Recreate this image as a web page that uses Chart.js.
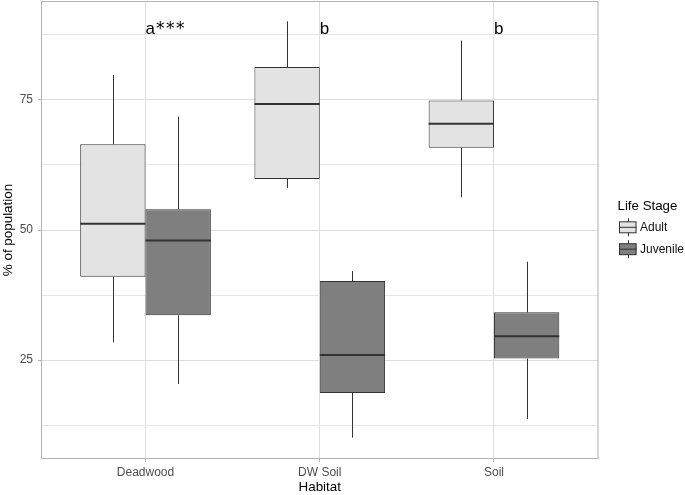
<!DOCTYPE html>
<html>
<head>
<meta charset="utf-8">
<script src="https://cdn.jsdelivr.net/npm/chart.js@4"></script>
<style>
  body { margin: 0; background: #fff; }
  canvas { display: block; }
</style>
</head>
<body>
<canvas id="boxchart" width="685" height="495"></canvas>
<script>
const HABITATS = ["Deadwood", "DW Soil", "Soil"];
const STAGES = ["Adult", "Juvenile"];

// five number summaries
const ADULT_MIN = [28.4, 58.1, 56.3];
const ADULT_Q1 = [41.0, 59.8, 65.8];
const ADULT_MED = [51.2, 74.2, 70.4];
const ADULT_Q3 = [66.5, 81.3, 74.9];
const ADULT_MAX = [79.8, 90.1, 86.4];

const JUV_MIN = [20.4, 10.1, 13.7];
const JUV_Q1 = [33.6, 18.7, 25.3];
const JUV_MED = [48.0, 26.0, 29.6];
const JUV_Q3 = [54.0, 40.2, 34.2];
const JUV_MAX = [71.8, 42.1, 43.9];

const LETTERS = ["a***", "b", "b"];
const LETTER_Y = 87.6;

const Y_MAJOR = [25, 50, 75];
const Y_MINOR = [12.5, 37.5, 62.5, 87.5];

const FILLS = ["#E3E3E3", "#7F7F7F"];
const LINE = "#333333";
const GRID = "#DEDEDE";
const FONT = "'Liberation Sans', Arial, sans-serif";

const stats = [
  { min: ADULT_MIN, q1: ADULT_Q1, med: ADULT_MED, q3: ADULT_Q3, max: ADULT_MAX },
  { min: JUV_MIN, q1: JUV_Q1, med: JUV_MED, q3: JUV_Q3, max: JUV_MAX },
];

const boxPlugin = {
  id: "boxparts",
  afterDatasetsDraw(chart) {
    const ctx = chart.ctx;
    const ys = chart.scales.y;
    ctx.save();
    ctx.strokeStyle = LINE;
    chart.data.datasets.forEach((ds, di) => {
      const s = stats[di];
      chart.getDatasetMeta(di).data.forEach((bar, i) => {
        const x = Math.round(bar.x) + 0.5;
        const half = bar.width / 2;
        ctx.lineWidth = 1;
        ctx.beginPath();
        ctx.moveTo(x, ys.getPixelForValue(s.q3[i]));
        ctx.lineTo(x, ys.getPixelForValue(s.max[i]));
        ctx.moveTo(x, ys.getPixelForValue(s.q1[i]));
        ctx.lineTo(x, ys.getPixelForValue(s.min[i]));
        ctx.stroke();
        ctx.lineWidth = 2;
        ctx.beginPath();
        const my = ys.getPixelForValue(s.med[i]);
        ctx.moveTo(bar.x - half, my);
        ctx.lineTo(bar.x + half, my);
        ctx.stroke();
      });
    });
    ctx.restore();
  },
  afterDraw(chart) {
    const ctx = chart.ctx;
    const a = chart.chartArea;
    const xs = chart.scales.x;
    const ys = chart.scales.y;
    ctx.save();
    // panel border
    ctx.strokeStyle = "#B3B3B3";
    ctx.lineWidth = 1;
    ctx.strokeRect(a.left + 0.5, a.top + 0.5, a.right - a.left - 1, a.bottom - a.top - 1);

    // significance letters
    ctx.fillStyle = "#000";
    ctx.textAlign = "left";
    ctx.textBaseline = "alphabetic";
    LETTERS.forEach((t, i) => {
      let x = xs.getPixelForValue(i + 1);
      const y = ys.getPixelForValue(LETTER_Y);
      ctx.font = "17px " + FONT;
      ctx.fillText(t[0], x, y);
      x += ctx.measureText(t[0]).width;
      ctx.font = "17px 'DejaVu Sans', sans-serif";
      ctx.letterSpacing = "1.5px";
      ctx.fillText(t.slice(1), x + 1, y);
      ctx.letterSpacing = "0px";
    });

    // legend
    ctx.textBaseline = "middle";
    ctx.font = "13.3px " + FONT;
    ctx.fillText("Life Stage", 617.5, 206.5);
    ctx.font = "12px " + FONT;
    const keyX = 619, keyW = 17.5;
    [227.3, 249.2].forEach((cy, k) => {
      const cx = Math.round(keyX + keyW / 2) + 0.5;
      ctx.strokeStyle = LINE;
      ctx.lineWidth = 1;
      ctx.beginPath();
      ctx.moveTo(cx, cy - 9);
      ctx.lineTo(cx, cy + 9);
      ctx.stroke();
      ctx.fillStyle = FILLS[k];
      ctx.fillRect(keyX, cy - 5.5, keyW, 11);
      ctx.strokeRect(keyX + 0.5, cy - 5.5, keyW - 1, 11);
      ctx.beginPath();
      ctx.moveTo(keyX, cy);
      ctx.lineTo(keyX + keyW, cy);
      ctx.stroke();
      ctx.fillStyle = "#111";
      ctx.fillText(STAGES[k], 640, cy);
    });
    ctx.restore();
  },
};

new Chart("boxchart", {
  type: "bar",
  data: {
    datasets: STAGES.map((name, di) => ({
      label: name,
      data: HABITATS.map((h, i) => ({ x: i + 1, y: [stats[di].q1[i], stats[di].q3[i]] })),
      backgroundColor: FILLS[di],
      borderColor: LINE,
      borderWidth: 1,
      borderSkipped: false,
      categoryPercentage: 0.75,
      barPercentage: 1,
    })),
  },
  options: {
    responsive: false,
    animation: false,
    layout: { padding: { top: 1, right: 86.5, left: 0, bottom: 0 } },
    plugins: { legend: { display: false }, tooltip: { enabled: false } },
    scales: {
      x: {
        type: "linear",
        min: 0.4,
        max: 3.6,
        offset: false,
        afterBuildTicks: (scale) => {
          scale.ticks = HABITATS.map((h, i) => ({ value: i + 1 }));
        },
        afterFit: (scale) => {
          scale.height = 36;
          scale.paddingLeft = 0;
          scale.paddingRight = 0;
        },
        ticks: {
          autoSkip: false,
          maxRotation: 0,
          padding: 3,
          color: "#4D4D4D",
          font: { family: FONT, size: 12 },
          callback: (v) => HABITATS[Math.round(v) - 1],
        },
        grid: { offset: false, color: GRID, lineWidth: 1, tickColor: "#B3B3B3", tickLength: 3 },
        border: { display: false },
        title: {
          display: true,
          text: "Habitat",
          color: "#000",
          padding: 0,
          font: { family: FONT, size: 13.4 },
        },
      },
      y: {
        min: 6,
        max: 94,
        afterBuildTicks: (scale) => {
          scale.ticks = Y_MINOR.concat(Y_MAJOR).sort((p, q) => p - q).map((v) => ({ value: v }));
        },
        afterFit: (scale) => {
          scale.width = 41;
          scale.paddingTop = 0;
          scale.paddingBottom = 0;
        },
        ticks: {
          autoSkip: false,
          padding: 5,
          color: "#4D4D4D",
          font: { family: FONT, size: 12 },
          callback: (v) => (Y_MAJOR.includes(v) ? String(v) : ""),
        },
        grid: {
          color: (c) => (c.tick && Y_MAJOR.includes(c.tick.value) ? GRID : "#E6E6E6"),
          tickColor: (c) => (c.tick && Y_MAJOR.includes(c.tick.value) ? "#B3B3B3" : "rgba(0,0,0,0)"),
          tickLength: 3,
        },
        border: { display: false },
        title: {
          display: true,
          text: "% of population",
          color: "#000",
          padding: 0,
          font: { family: FONT, size: 13.4 },
        },
      },
    },
  },
  plugins: [boxPlugin],
});
</script>
</body>
</html>
